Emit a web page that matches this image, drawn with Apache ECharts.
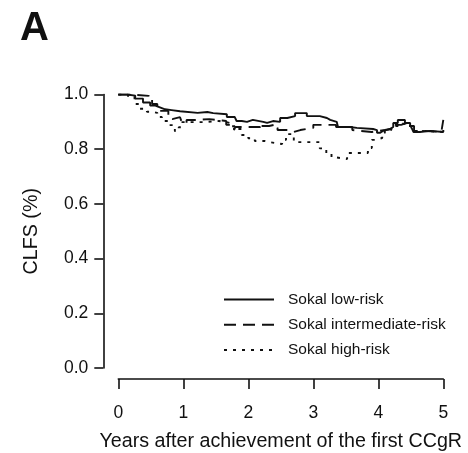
<!DOCTYPE html>
<html>
<head>
<meta charset="utf-8">
<script src="https://cdn.jsdelivr.net/npm/echarts@6/dist/echarts.min.js"></script>
<style>
  html, body { margin: 0; padding: 0; background: #fff; }
  #chart { width: 468px; height: 453px; }
</style>
</head>
<body>
<div id="chart"></div>
<script>
// Years after first CCgR and CLFS estimates for each Sokal risk group
const lowTime = [0, 0.13, 0.26, 0.38, 0.49, 0.56, 0.64, 0.72, 0.82, 0.95, 1.22, 1.37, 1.46, 1.67, 1.79, 1.82, 1.9, 1.98, 2.07, 2.23, 2.29, 2.38, 2.49, 2.6, 2.72, 2.9, 3.1, 3.21, 3.26, 3.36, 3.38, 3.56, 3.67, 3.92, 3.98, 4.03, 4.07, 4.18, 4.23, 4.3, 4.41, 4.49, 4.52, 4.54, 4.64, 4.8, 5.0];
const lowCLFS = [1.0, 0.996, 0.985, 0.971, 0.96, 0.953, 0.946, 0.943, 0.939, 0.933, 0.936, 0.932, 0.928, 0.918, 0.914, 0.903, 0.9, 0.907, 0.9, 0.896, 0.903, 0.9, 0.914, 0.921, 0.932, 0.921, 0.914, 0.907, 0.9, 0.896, 0.881, 0.878, 0.874, 0.87, 0.86, 0.867, 0.874, 0.881, 0.896, 0.907, 0.896, 0.888, 0.874, 0.863, 0.867, 0.863, 0.87];

const intTime = [0, 0.2, 0.47, 0.52, 0.6, 0.77, 0.8, 0.83, 0.95, 0.98, 1.05, 1.2, 1.4, 1.6, 1.66, 1.78, 1.8, 2.1, 2.18, 2.2, 2.32, 2.4, 2.45, 2.62, 2.7, 2.8, 2.9, 3.0, 3.3, 3.35, 3.6, 3.62, 3.9, 4.0, 4.1, 4.2, 4.35, 4.45, 4.55, 4.7, 4.97, 5.0];
const intCLFS = [1.0, 0.995, 0.985, 0.965, 0.94, 0.915, 0.91, 0.917, 0.91, 0.896, 0.907, 0.91, 0.905, 0.903, 0.889, 0.87, 0.881, 0.881, 0.87, 0.885, 0.889, 0.878, 0.87, 0.863, 0.87, 0.874, 0.878, 0.889, 0.889, 0.881, 0.87, 0.863, 0.867, 0.87, 0.874, 0.889, 0.896, 0.885, 0.867, 0.863, 0.863, 0.907];

const highTime = [0, 0.15, 0.25, 0.33, 0.44, 0.52, 0.6, 0.67, 0.78, 0.87, 0.93, 0.98, 1.3, 1.55, 1.65, 1.72, 1.8, 1.9, 2.0, 2.1, 2.25, 2.32, 2.52, 2.58, 2.7, 3.1, 3.2, 3.28, 3.35, 3.52, 3.84, 3.9, 3.96, 4.06, 4.1, 4.2, 4.3, 4.45, 4.55, 4.65, 5.0];
const highCLFS = [1.0, 0.99, 0.965, 0.948, 0.937, 0.933, 0.918, 0.903, 0.888, 0.866, 0.88, 0.899, 0.903, 0.899, 0.896, 0.884, 0.874, 0.852, 0.84, 0.83, 0.826, 0.819, 0.834, 0.855, 0.826, 0.803, 0.785, 0.77, 0.764, 0.786, 0.804, 0.834, 0.841, 0.859, 0.87, 0.885, 0.893, 0.885, 0.867, 0.863, 0.863];

const groupNames = ['Sokal low-risk', 'Sokal intermediate-risk', 'Sokal high-risk'];
const xTicks = [0, 1, 2, 3, 4, 5];
const yTicks = [0, 0.2, 0.4, 0.6, 0.8, 1.0];

const pairs = (t, v) => t.map((x, i) => [x, v[i]]);

const FONT = 'Liberation Sans, Arial, Helvetica, sans-serif';
const INK = '#111';

const chart = echarts.init(document.getElementById('chart'), null, { renderer: 'canvas' });

function curve(name, data, dash) {
  return {
    name: name,
    type: 'line',
    step: 'end',
    data: data,
    symbol: 'none',
    color: INK,
    animation: false,
    lineStyle: { color: INK, width: 1.9, type: dash }
  };
}

chart.setOption({
  backgroundColor: '#fff',
  animation: false,
  textStyle: { fontFamily: FONT, color: INK },
  graphic: [{
    type: 'text',
    left: 20,
    top: 9,
    style: { text: 'A', font: 'bold 40px ' + FONT, fill: INK }
  }],
  grid: { left: 118.3, right: 24.7, top: 94.5, bottom: 85, outerBoundsMode: 'none', containLabel: false },
  legend: {
    orient: 'vertical',
    left: 223,
    top: 291.5,
    padding: 0,
    itemWidth: 50,
    itemHeight: 14,
    itemGap: 9.3,
    data: groupNames,
    itemStyle: { opacity: 0 },
    textStyle: { fontFamily: FONT, fontSize: 15.5, color: INK, padding: [0, 0, 0, 9] }
  },
  xAxis: {
    type: 'value',
    min: xTicks[0],
    max: xTicks[xTicks.length - 1],
    interval: 1,
    offset: 11,
    name: 'Years after achievement of the first CCgR',
    nameLocation: 'middle',
    nameGap: 53,
    nameTextStyle: { fontFamily: FONT, fontSize: 19.7, color: INK },
    axisLine: { onZero: false, lineStyle: { color: INK, width: 1.6 } },
    axisTick: { length: 10, lineStyle: { color: INK, width: 1.6 } },
    axisLabel: { margin: 25, fontFamily: FONT, fontSize: 17.5, color: INK },
    splitLine: { show: false }
  },
  yAxis: {
    type: 'value',
    min: yTicks[0],
    max: yTicks[yTicks.length - 1],
    interval: 0.2,
    offset: 15,
    name: 'CLFS (%)',
    nameLocation: 'middle',
    nameGap: 62,
    nameTextStyle: { fontFamily: FONT, fontSize: 19.7, color: INK },
    axisLine: { show: true, onZero: false, lineStyle: { color: INK, width: 1.6 } },
    axisTick: { show: true, length: 9, lineStyle: { color: INK, width: 1.6 } },
    axisLabel: { margin: 15, fontFamily: FONT, fontSize: 17.5, color: INK, formatter: v => v.toFixed(1) },
    splitLine: { show: false }
  },
  series: [
    curve(groupNames[0], pairs(lowTime, lowCLFS), 'solid'),
    curve(groupNames[1], pairs(intTime, intCLFS), [12, 7]),
    curve(groupNames[2], pairs(highTime, highCLFS), [3, 6])
  ]
});
</script>
</body>
</html>
